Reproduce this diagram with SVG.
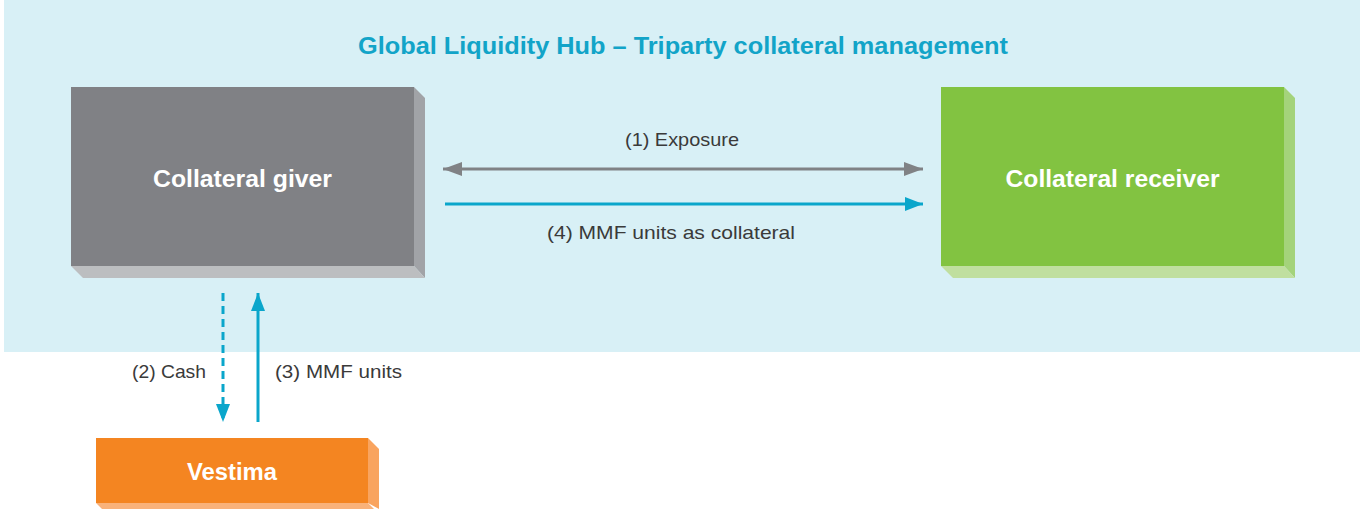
<svg xmlns="http://www.w3.org/2000/svg" width="1360" height="509" viewBox="0 0 1360 509">
<style>
.lbl{font-family:"Liberation Sans",Arial,sans-serif;font-size:19px;fill:#3a3a3a}
.node{font-family:"Liberation Sans",Arial,sans-serif;font-weight:bold;font-size:24px;fill:#ffffff;text-anchor:middle}
.title{font-family:"Liberation Sans",Arial,sans-serif;font-weight:bold;font-size:23px;fill:#12a4c8}
.blue{stroke:#0aa6cb;stroke-width:3;fill:none}
.gray{stroke:#808285;stroke-width:3;fill:none}
</style>
<defs>
<marker id="hb" viewBox="0 0 18 14" refX="18" refY="7" markerWidth="18" markerHeight="14" markerUnits="userSpaceOnUse" orient="auto-start-reverse"><path d="M0,0 L18,7 L0,14 Z" fill="#0aa6cb"/></marker>
<marker id="hg" viewBox="0 0 19 14" refX="19" refY="7" markerWidth="19" markerHeight="14" markerUnits="userSpaceOnUse" orient="auto-start-reverse"><path d="M0,0 L19,7 L0,14 Z" fill="#808285"/></marker>
</defs>
<rect x="0" y="0" width="1360" height="509" fill="#ffffff"/>
<rect x="4" y="0" width="1356" height="352" fill="#d8f0f6"/>
<text class="title" x="358" y="54" textLength="650" lengthAdjust="spacingAndGlyphs">Global Liquidity Hub – Triparty collateral management</text>

<g id="giver">
<polygon points="414,87 425,98 425,278 414,266" fill="#a1a3a7"/>
<polygon points="71,266 414,266 425,278 83,278" fill="#bcbec0"/>
<rect x="71" y="87" width="343" height="179" fill="#808185"/>
<text class="node" x="242.5" y="187" textLength="179" lengthAdjust="spacingAndGlyphs">Collateral giver</text>
</g>

<g id="receiver">
<polygon points="1284,87 1295,98 1295,278 1284,266" fill="#a4d37b"/>
<polygon points="941,266 1284,266 1295,278 953,278" fill="#c0df9f"/>
<rect x="941" y="87" width="343" height="179" fill="#82c341"/>
<text class="node" x="1112.5" y="187" textLength="214" lengthAdjust="spacingAndGlyphs">Collateral receiver</text>
</g>

<g id="vestima">
<polygon points="368,438 379,449 379,509 368,503" fill="#f9a45f"/>
<polygon points="96,503 368,503 379,514 107,514" fill="#f9b27a"/>
<rect x="96" y="438" width="272" height="65" fill="#f48521"/>
<text class="node" x="232" y="480" textLength="90" lengthAdjust="spacingAndGlyphs">Vestima</text>
</g>

<g id="connectors">
<line class="gray" x1="443" y1="169" x2="923" y2="169" marker-start="url(#hg)" marker-end="url(#hg)"/>
<line class="blue" x1="445" y1="204" x2="923" y2="204" marker-end="url(#hb)"/>
<line class="blue" x1="223" y1="293" x2="223" y2="422" stroke-dasharray="8,5" marker-end="url(#hb)"/>
<line class="blue" x1="258" y1="422" x2="258" y2="293" marker-end="url(#hb)"/>
</g>

<text class="lbl" x="682" y="146" text-anchor="middle" textLength="114" lengthAdjust="spacingAndGlyphs">(1) Exposure</text>
<text class="lbl" x="671" y="239" text-anchor="middle" textLength="248" lengthAdjust="spacingAndGlyphs">(4) MMF units as collateral</text>
<text class="lbl" x="132" y="378" textLength="74" lengthAdjust="spacingAndGlyphs">(2) Cash</text>
<text class="lbl" x="275" y="378" textLength="127" lengthAdjust="spacingAndGlyphs">(3) MMF units</text>
</svg>
